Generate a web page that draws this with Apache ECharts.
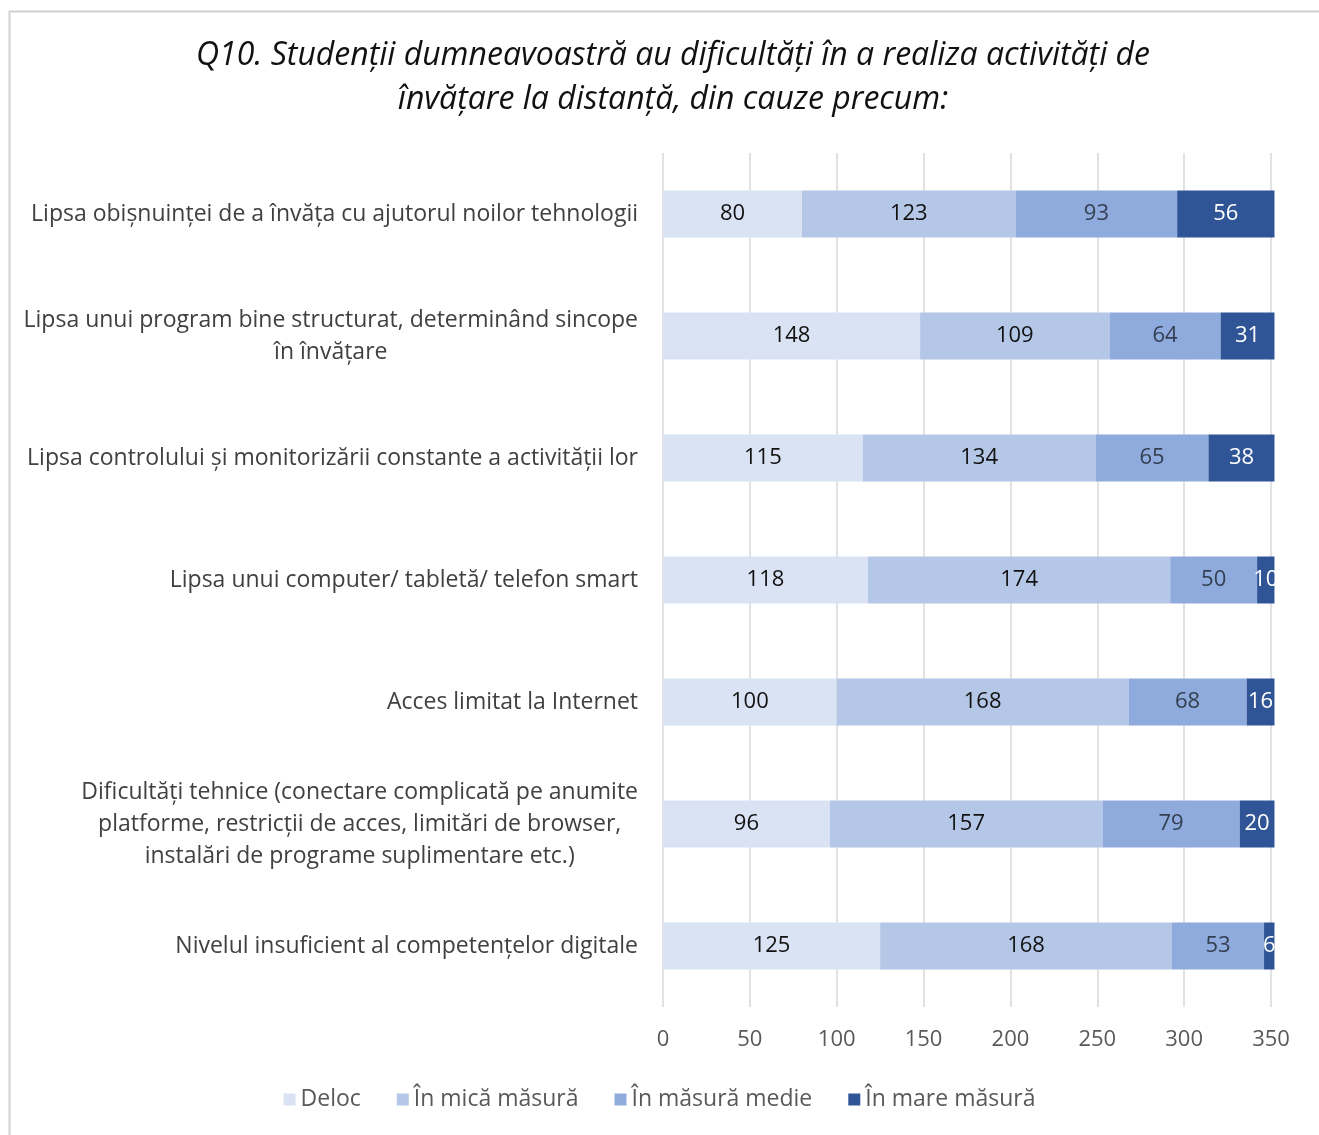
<!DOCTYPE html>
<html>
<head>
<meta charset="utf-8">
<script src="https://cdn.jsdelivr.net/npm/echarts@6/dist/echarts.min.js"></script>
<style>
  html, body { margin: 0; padding: 0; background: #fff; }
</style>
</head>
<body>
<div id="main" style="width: 1319px; height: 1135px"></div>
<script>
// categorii (de sus in jos)
const categories = [
  'Lipsa obișnuinței de a învăța cu ajutorul noilor tehnologii',
  'Lipsa unui program bine structurat, determinând sincope\nîn învățare',
  'Lipsa controlului și monitorizării constante a activității lor',
  'Lipsa unui computer/ tabletă/ telefon smart',
  'Acces limitat la Internet',
  'Dificultăți tehnice (conectare complicată pe anumite\nplatforme, restricții de acces, limitări de browser,\ninstalări de programe suplimentare etc.)',
  'Nivelul insuficient al competențelor digitale'
]
const seriesNames = ['Deloc', 'În mică măsură', 'În măsură medie', 'În mare măsură']
const deloc = [80, 148, 115, 118, 100, 96, 125]
const micaMasura = [123, 109, 134, 174, 168, 157, 168]
const masuraMedie = [93, 64, 65, 50, 68, 79, 53]
const mareMasura = [56, 31, 38, 10, 16, 20, 6]
const xTicks = [0, 50, 100, 150, 200, 250, 300, 350]

const colors = ['#dae3f3', '#b4c7e7', '#8faadc', '#2f5597']
const labelColors = ['#111', '#111', '#333f50', '#fff']
const values = [deloc, micaMasura, masuraMedie, mareMasura]
const font = '"Open Sans", Lato, sans-serif'

var myChart = echarts.init(document.getElementById('main'))

const option = {
  backgroundColor: '#fff',
  title: {
    text: 'Q10. Studenții dumneavoastră au dificultăți în a realiza activități de\nînvățare la distanță, din cauze precum:',
    left: 668,
    textAlign: 'center',
    top: 29,
    textStyle: {
      fontFamily: font,
      fontStyle: 'italic',
      fontWeight: 'normal',
      fontSize: 32,
      lineHeight: 44,
      color: '#111'
    }
  },
  legend: {
    data: seriesNames,
    left: 'center',
    top: 1083,
    itemWidth: 12,
    itemHeight: 12,
    itemGap: 36,
    icon: 'rect',
    textStyle: { fontFamily: font, fontSize: 23, color: '#595959' }
  },
  grid: { left: 663, right: 48, top: 153, bottom: 128 },
  xAxis: {
    type: 'value',
    min: xTicks[0],
    max: xTicks[xTicks.length - 1],
    interval: 50,
    axisLine: { show: false },
    axisTick: { show: false },
    splitLine: { lineStyle: { color: '#d9d9d9', width: 1.5 } },
    axisLabel: { fontFamily: font, fontSize: 22, color: '#595959', margin: 22 }
  },
  yAxis: {
    type: 'category',
    data: categories,
    inverse: true,
    axisLine: { show: false },
    axisTick: { show: false },
    axisLabel: {
      margin: 25,
      fontFamily: font,
      fontSize: 23,
      color: '#404040',
      formatter: v => v.split('\n').map(l => '{c|' + l + '}').join('\n'),
      rich: {
        c: { align: 'center', fontFamily: font, fontSize: 23, color: '#404040', lineHeight: 32 }
      }
    }
  },
  series: seriesNames.map((name, i) => ({
    name: name,
    type: 'bar',
    stack: 'total',
    barWidth: 47,
    clip: false,
    itemStyle: { color: colors[i] },
    label: {
      show: true,
      position: 'inside',
      fontFamily: font,
      fontSize: 22,
      color: labelColors[i]
    },
    data: values[i]
  })),
  graphic: [
    // etichetele care ies din zona graficului sunt taiate (ca in Excel)
    { type: 'rect', z: 100, shape: { x: 1276, y: 150, width: 40, height: 860 }, style: { fill: '#fff' } },
    { type: 'rect', z: 101, shape: { x: 9.5, y: 11.5, width: 1400, height: 1200 }, style: { fill: null, stroke: '#d0d0d0', lineWidth: 2 } }
  ]
}

myChart.setOption(option)
</script>
</body>
</html>
